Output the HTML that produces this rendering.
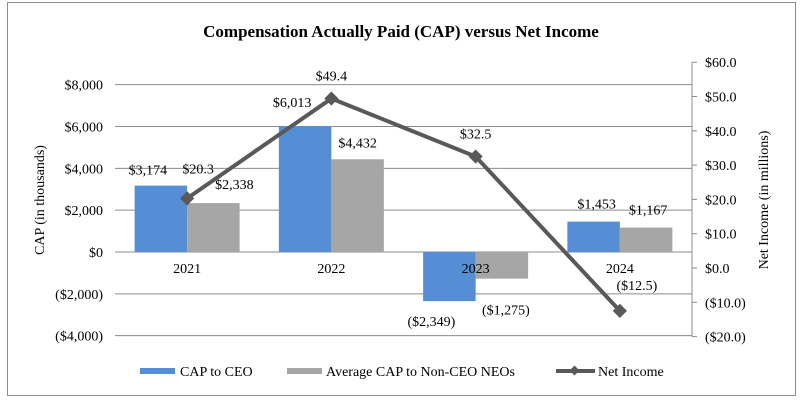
<!DOCTYPE html>
<html><head><meta charset="utf-8"><style>
body{margin:0;background:#fff;width:803px;height:410px;overflow:hidden}
svg, svg text{font-family:"Times New Roman","Liberation Serif","DejaVu Serif",Times,serif;fill:#000}
</style></head><body>
<svg width="803" height="410" font-family="Times New Roman, Liberation Serif, DejaVu Serif, serif">
<rect x="7.5" y="2.5" width="788" height="393" fill="#fff" stroke="#8c8c8c"/>
<text x="401" y="37" text-anchor="middle" font-size="17" font-weight="bold">Compensation Actually Paid (CAP) versus Net Income</text>
<g id="grid"></g><g id="bars"></g><g id="line"></g><g id="labels"></g><g id="axes"></g>
<text transform="translate(44,200) rotate(-90)" text-anchor="middle" font-size="14">CAP (in thousands)</text>
<text transform="translate(768,200) rotate(-90)" text-anchor="middle" font-size="14">Net Income (in millions)</text>
<g>
<rect x="140" y="368" width="35" height="6" fill="#558ed5"/>
<text x="180" y="376" font-size="14">CAP to CEO</text>
<rect x="287" y="368" width="35" height="6" fill="#a6a6a6"/>
<text x="326" y="376" font-size="14">Average CAP to Non-CEO NEOs</text>
<line x1="556" y1="371" x2="595" y2="371" stroke="#595959" stroke-width="4"/>
<rect x="571" y="367" width="7" height="7" fill="#595959" transform="rotate(45 574.5 370.5)"/>
<text x="598" y="376" font-size="14">Net Income</text>
</g>
</svg>
<script>
const categories=["2021","2022","2023","2024"];
const capCEO=[3174,6013,-2349,1453];
const capNEO=[2338,4432,-1275,1167];
const netIncome=[20.3,49.4,32.5,-12.5];
const leftTicks=[8000,6000,4000,2000,0,-2000,-4000];
const rightTicks=[60,50,40,30,20,10,0,-10,-20];
const ceoLabels=["$3,174","$6,013","($2,349)","$1,453"];
const neoLabels=["$2,338","$4,432","($1,275)","$1,167"];
const netLabels=["$20.3","$49.4","$32.5","($12.5)"];
// manual label nudges (layout only)
const ceoNudge=[[-13,-11],[-13,-19],[-18,25],[3,-13]];
const neoNudge=[[21,-14],[0,-12],[4,36],[2,-13]];
const netNudge=[[11,-25],[0,-18],[0,-18],[17,-21]];
const NS="http://www.w3.org/2000/svg";
const x0=115,x1=692;
const yL=v=>252-v*(251/12000);
const yR=v=>268-v*(205.8/60);
const bandW=(x1-x0)/categories.length;
const xc=i=>x0+bandW*(i+0.5);
function mk(tag,attrs,parent,txt){const e=document.createElementNS(NS,tag);for(const k in attrs)e.setAttribute(k,attrs[k]);if(txt!==undefined)e.textContent=txt;document.getElementById(parent).appendChild(e);return e;}
leftTicks.forEach(t=>{
  const g=mk('line',{x1:x0,x2:x1,y1:yL(t),y2:yL(t),stroke:'#8c8c8c','stroke-width':1},'grid');
  
  
  const s=t<0?'($'+Math.abs(t).toLocaleString('en-US')+')':'$'+t.toLocaleString('en-US');
  const l=mk('text',{x:103,y:yL(t)+5,'text-anchor':'end','font-size':14},'axes',s);
  
  
});
const ax=mk('line',{x1:x1,x2:x1,y1:yR(60),y2:yR(-20),stroke:'#8c8c8c'},'axes');


rightTicks.forEach(t=>{
  const tk=mk('line',{x1:x1,x2:x1+5,y1:yR(t),y2:yR(t),stroke:'#8c8c8c'},'axes');
  
  
  const s=t<0?'($'+Math.abs(t).toFixed(1)+')':'$'+t.toFixed(1);
  const l=mk('text',{x:705,y:yR(t)+5,'font-size':14},'axes',s);
  
  
});
const bw=52.5;
categories.forEach((c,i)=>{
  const cx=xc(i);
  const a=capCEO[i],b=capNEO[i];
  const r1=mk('rect',{x:cx-bw,y:Math.min(yL(a),yL(0)),width:bw,height:Math.abs(yL(a)-yL(0)),fill:'#558ed5'},'bars');
  
  
  const r2=mk('rect',{x:cx,y:Math.min(yL(b),yL(0)),width:bw,height:Math.abs(yL(b)-yL(0)),fill:'#a6a6a6'},'bars');
  
  
  const cl=mk('text',{x:cx,y:273,'text-anchor':'middle','font-size':14},'labels',c);
  
  
  const l1=mk('text',{x:cx-bw/2+ceoNudge[i][0],y:yL(a)+ceoNudge[i][1],'text-anchor':'middle','font-size':14},'labels',ceoLabels[i]);
  
  
  const l2=mk('text',{x:cx+bw/2+neoNudge[i][0],y:yL(b)+neoNudge[i][1],'text-anchor':'middle','font-size':14},'labels',neoLabels[i]);
  
  
  const l3=mk('text',{x:cx+netNudge[i][0],y:yR(netIncome[i])+netNudge[i][1],'text-anchor':'middle','font-size':14},'labels',netLabels[i]);
  
  
});
const pts=netIncome.map((v,i)=>xc(i)+','+yR(v)).join(' ');
const pl=mk('polyline',{points:pts,fill:'none',stroke:'#595959','stroke-width':4},'line');


netIncome.forEach((v,i)=>{
  const m=mk('rect',{x:xc(i)-5,y:yR(v)-5,width:10,height:10,fill:'#595959',transform:'rotate(45 '+xc(i)+' '+yR(v)+')'},'line');
  
  
});
</script>
</body></html>
